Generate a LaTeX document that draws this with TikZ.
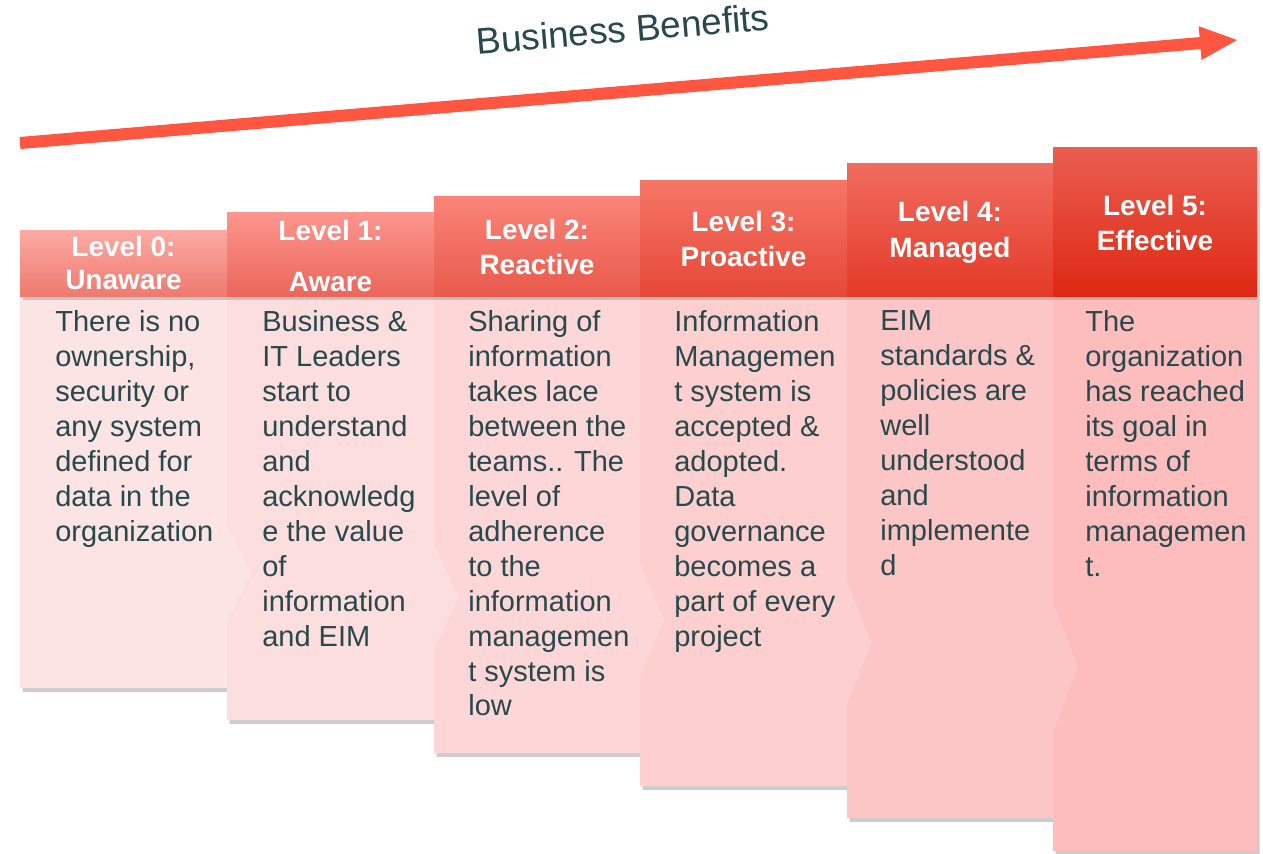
\documentclass[tikz,border=0pt]{standalone}
\usepackage{fontspec}
\setmainfont{Liberation Sans}
\usetikzlibrary{shadows}
\definecolor{txt}{RGB}{40,72,76}
\definecolor{arrowc}{RGB}{254,86,64}
\definecolor{bodyA}{RGB}{253,228,228}
\definecolor{bodyB}{RGB}{253,222,222}
\definecolor{bodyC}{RGB}{253,215,215}
\definecolor{bodyD}{RGB}{253,207,207}
\definecolor{bodyE}{RGB}{253,198,198}
\definecolor{bodyF}{RGB}{253,189,189}
\definecolor{hAt}{RGB}{252,170,164}\definecolor{hAb}{RGB}{238,122,112}
\definecolor{hBt}{RGB}{252,150,142}\definecolor{hBb}{RGB}{236,102,90}
\definecolor{hCt}{RGB}{250,132,120}\definecolor{hCb}{RGB}{232,90,76}
\definecolor{hDt}{RGB}{246,118,104}\definecolor{hDb}{RGB}{230,72,55}
\definecolor{hEt}{RGB}{240,108,95}\definecolor{hEb}{RGB}{228,58,40}
\definecolor{hFt}{RGB}{234,94,80}\definecolor{hFb}{RGB}{222,40,20}
\tikzset{
  bodyshape/.style={drop shadow={shadow xshift=1.5pt,shadow yshift=-2.2pt,opacity=0.4}},
  headshape/.style={drop shadow={shadow xshift=1.5pt,shadow yshift=-2pt,opacity=0.35}},
  headtext/.style={text=white,font=\fontsize{15.9}{19.9}\selectfont\bfseries,align=center,inner sep=0pt},
  bodytext/.style={text=txt,font=\fontsize{16.5}{19.9}\selectfont,align=left,anchor=north west,inner sep=0pt},
}
\begin{document}
\begin{tikzpicture}[x=0.02cm,y=-0.02cm]
\useasboundingbox (0,0) rectangle (1263,853);
% arrow
\coordinate (as1) at (20.5,149);
\coordinate (as2) at (19.5,137);
\coordinate (ae1) at (1199.6,37.1);
\coordinate (ae2) at (1200.6,49.1);
\coordinate (ah1) at (1198.7,26.2);
\coordinate (ah2) at (1201.5,60.0);
\coordinate (atip) at (1237,40);
\fill[arrowc] (as1) -- (as2) -- (ae1) -- (ah1) -- (atip) -- (ah2) -- (ae2) -- cycle;
\node[text=txt,font=\fontsize{21}{25}\selectfont,rotate=4.8] (bb) at (623,29) {Business Benefits};
% bodies (left to right)
\fill[bodyA,bodyshape] (20,296) -- (227,296) -- (227,523) -- (252,573) -- (227,623) -- (227,688) -- (20,688) -- cycle;
\fill[bodyB,bodyshape] (227,296) -- (434,296) -- (434,544) -- (459,597) -- (434,650) -- (434,720) -- (227,720) -- (227,623) -- (252,573) -- (227,523) -- cycle;
\fill[bodyC,bodyshape] (434,296) -- (640,296) -- (640,563) -- (665,620) -- (640,677) -- (640,753) -- (434,753) -- (434,650) -- (459,597) -- (434,544) -- cycle;
\fill[bodyD,bodyshape] (640,296) -- (847,296) -- (847,581) -- (872,643) -- (847,705) -- (847,786) -- (640,786) -- (640,677) -- (665,620) -- (640,563) -- cycle;
\fill[bodyE,bodyshape] (847,296) -- (1053,296) -- (1053,601) -- (1078,667) -- (1053,733) -- (1053,818) -- (847,818) -- (847,705) -- (872,643) -- (847,581) -- cycle;
\fill[bodyF,bodyshape] (1053,296) -- (1257,296) -- (1257,851) -- (1053,851) -- (1053,733) -- (1078,667) -- (1053,601) -- cycle;
% headers
\fill[top color=hAt,bottom color=hAb,headshape] (20,230) rectangle (227,296);
\fill[top color=hBt,bottom color=hBb,headshape] (227,212) rectangle (434,296);
\fill[top color=hCt,bottom color=hCb,headshape] (434,196) rectangle (640,296);
\fill[top color=hDt,bottom color=hDb,headshape] (640,180) rectangle (847,296);
\fill[top color=hEt,bottom color=hEb,headshape] (847,163) rectangle (1053,296);
\fill[top color=hFt,bottom color=hFb,headshape] (1053,147) rectangle (1257,296);
% header texts
\node[headtext] (h0) at (123.5,263) {Level 0:\\[-1.5pt]Unaware};
\node[headtext] (h1) at (330.5,256) {Level 1:\\[9pt]Aware};
\node[headtext] (h2) at (537,247) {Level 2:\\Reactive};
\node[headtext] (h3) at (743.5,239) {Level 3:\\Proactive};
\node[headtext] (h4) at (950,232.5) {Level 4:\\[0.5pt]Managed};
\node[headtext] (h5) at (1155,223) {Level 5:\\Effective};
% body texts
\node[bodytext] (b0) at (55,310) {There is no\\ownership,\\security or\\any system\\defined for\\data in the\\organization};
\node[bodytext] (b1) at (262,310) {Business \&\\IT Leaders\\start to\\understand\\and\\acknowledg\\e the value\\of\\information\\and EIM};
\node[bodytext] (b2) at (468,310) {Sharing of\\information\\takes lace\\between the\\teams.. The\\level of\\adherence\\to the\\information\\managemen\\t system is\\low};
\node[bodytext] (b3) at (674,310) {Information\\Managemen\\t system is\\accepted \&\\adopted.\\Data\\governance\\becomes a\\part of every\\project};
\node[bodytext] (b4) at (880,310) {EIM\\standards \&\\policies are\\well\\understood\\and\\implemente\\d};
\node[bodytext] (b5) at (1085,310) {The\\organization\\has reached\\its goal in\\terms of\\information\\managemen\\t.};
\end{tikzpicture}
\end{document}
